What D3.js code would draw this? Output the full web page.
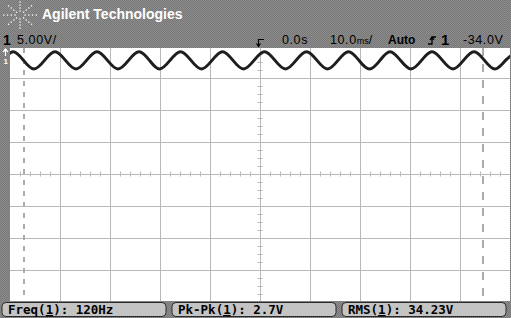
<!DOCTYPE html>
<html>
<head>
<meta charset="utf-8">
<script src="https://cdn.jsdelivr.net/npm/d3@7"></script>
<style>
  body { margin: 0; background: #888; }
  svg { display: block; }
</style>
</head>
<body>
<div id="chart"></div>
<script>
// sample points (ms, volts)
const traceTime = [
  -53.6, -51.5, -49.4, -47.3, -45.2, -43.1, -41.0, -38.9, -36.8, -34.7,
  -32.6, -30.5, -28.4, -26.3, -24.2, -22.1, -20.1, -18.0, -15.9, -13.8,
  -11.7, -9.6, -7.5, -5.4, -3.3, -1.2, 0.9, 3.0, 5.1, 7.2,
  9.3, 11.4, 13.5, 15.6, 17.7, 19.8, 21.9, 24.0, 26.0, 28.1,
  30.2, 32.3, 34.4, 36.5, 38.6, 40.7, 42.8, 44.9, 47.0, 49.1, 51.2,
];
const traceVolts = [
  -35.6, -34.25, -32.9, -34.25, -35.6, -34.25, -32.9, -34.25, -35.6, -34.25,
  -32.9, -34.25, -35.6, -34.25, -32.9, -34.25, -35.6, -34.25, -32.9, -34.25,
  -35.6, -34.25, -32.9, -34.25, -35.6, -34.25, -32.9, -34.25, -35.6, -34.25,
  -32.9, -34.25, -35.6, -34.25, -32.9, -34.25, -35.6, -34.25, -32.9, -34.25,
  -35.6, -34.25, -32.9, -34.25, -35.6, -34.25, -32.9, -34.25, -35.6, -34.25, -32.9,
];
const timeDomain = [-50, 50]; // 10 ms/div
const voltDomain = [-72, -32]; // 5 V/div, 8 div
const xGridTicks = [-40, -30, -20, -10, 0, 10, 20, 30, 40];
const yGridTicks = [-67, -62, -57, -52, -47, -42, -37];
const cursorTimes = [-47.2, 44.6];
const measureNames = ["Freq", "Pk-Pk", "RMS"];
const measureValues = ["120Hz", "2.7V", "34.23V"];

const width = 511, height = 318;
const plot = { left: 10, right: 510, top: 46, bottom: 302 };
const sans = "'Liberation Sans', Arial, sans-serif";
const mono = "'DejaVu Sans Mono', monospace";

const svg = d3.select("#chart").append("svg")
  .attr("width", width).attr("height", height);

const defs = svg.append("defs");
const pat = defs.append("pattern").attr("id", "dither")
  .attr("width", 2).attr("height", 2).attr("patternUnits", "userSpaceOnUse");
pat.append("rect").attr("width", 2).attr("height", 2).attr("fill", "#8e8e8e");
pat.append("rect").attr("width", 1).attr("height", 1).attr("fill", "#767676");
pat.append("rect").attr("x", 1).attr("y", 1).attr("width", 1).attr("height", 1).attr("fill", "#767676");

defs.append("clipPath").attr("id", "screen").append("rect")
  .attr("x", plot.left).attr("y", 48)
  .attr("width", plot.right - plot.left).attr("height", 301 - 48);

svg.append("rect").attr("width", width).attr("height", height).attr("fill", "url(#dither)");

// logo starburst
const logo = svg.append("g").attr("fill", "#fff");
d3.range(8).forEach((k) => {
  const a = (k * Math.PI) / 4;
  [4, 7, 10, 13].forEach((r) => {
    logo.append("rect")
      .attr("x", 20 + Math.cos(a) * r * 1.25 - 0.6)
      .attr("y", 15 + Math.sin(a) * r - 0.6)
      .attr("width", 1.3).attr("height", 1.3);
  });
});
svg.append("text").attr("x", 42).attr("y", 19)
  .style("font-family", sans)
  .attr("fill", "#fff").attr("font-weight", "bold").attr("font-size", 14)
  .text("Agilent Technologies");

// screen
svg.append("rect").attr("x", plot.left).attr("y", 48)
  .attr("width", plot.right - plot.left).attr("height", 301 - 48).attr("fill", "#fff");

const x = d3.scaleLinear().domain(timeDomain).range([plot.left, plot.right]);
const y = d3.scaleLinear().domain(voltDomain).range([plot.bottom, plot.top]);

const screen = svg.append("g").attr("clip-path", "url(#screen)");
const gridColor = "#b8b8b8";

screen.append("g")
  .attr("transform", `translate(0,${plot.top})`)
  .call(d3.axisBottom(x).tickValues(xGridTicks).tickSize(plot.bottom - plot.top).tickFormat(""))
  .call((g) => g.select(".domain").remove())
  .selectAll("line").attr("stroke", gridColor);

screen.append("g")
  .attr("transform", `translate(${plot.left},0)`)
  .call(d3.axisRight(y).tickValues(yGridTicks).tickSize(plot.right - plot.left).tickFormat(""))
  .call((g) => g.select(".domain").remove())
  .selectAll("line").attr("stroke", gridColor);

// minor ticks on center axes
screen.append("g")
  .attr("transform", `translate(0,${y(-52) - 2.5})`)
  .call(d3.axisBottom(x).tickValues(d3.range(-48, 50, 2)).tickSize(5).tickFormat(""))
  .call((g) => g.select(".domain").remove())
  .selectAll("line").attr("stroke", gridColor);
screen.append("g")
  .attr("transform", `translate(${x(0) - 2.5},0)`)
  .call(d3.axisRight(y).tickValues(d3.range(-70.75, -32, 1.25)).tickSize(5).tickFormat(""))
  .call((g) => g.select(".domain").remove())
  .selectAll("line").attr("stroke", gridColor);

// cursors
screen.selectAll(".cursor").data(cursorTimes).join("line")
  .attr("class", "cursor")
  .attr("x1", (d) => x(d)).attr("x2", (d) => x(d))
  .attr("y1", 48).attr("y2", 301)
  .attr("stroke", "#acacac").attr("stroke-width", 2)
  .attr("stroke-dasharray", (d, i) => (i === 0 ? "5,6" : "8,8"));

// trace
const trace = traceTime.map((t, i) => ({ t, v: traceVolts[i] }));
screen.append("path").datum(trace)
  .attr("fill", "none").attr("stroke", "#1e1e1e").attr("stroke-width", 3)
  .attr("d", d3.line().x((d) => x(d.t)).y((d) => y(d.v)).curve(d3.curveNatural));

// ground marker
svg.append("path").attr("d", "M5.5,49 L5.5,56 M3,52 L5.5,49 L8,52")
  .attr("stroke", "#fff").attr("stroke-width", 1.2).attr("fill", "none");
svg.append("text").attr("x", 3.5).attr("y", 64).attr("fill", "#fff")
  .style("font-family", sans)
  .attr("font-size", 8).attr("font-weight", "bold").text("1");

// status line
const status = (tx, ty, size, bold, str) =>
  svg.append("text").attr("x", tx).attr("y", ty)
    .style("font-family", sans).attr("font-size", size)
    .attr("font-weight", bold ? "bold" : "normal")
    .attr("letter-spacing", bold ? 0 : 0.6)
    .text(str);

status(3, 45, 14, true, "1");
status(17, 44, 12.5, false, "5.00V/");

svg.append("path").attr("d", "M264,39.5 L258.5,39.5 L258.5,46 M256.5,43.5 L258.5,46.5 L260.5,43.5")
  .attr("stroke", "#000").attr("stroke-width", 1.2).attr("fill", "none");
status(282, 44, 12.5, false, "0.0s");
const tb = status(330, 44, 12.5, false, "10.0");
tb.append("tspan").attr("font-size", 9).attr("letter-spacing", 0).text("ms");
tb.append("tspan").text("/");
status(388, 44, 12, true, "Auto");
svg.append("path").attr("d", "M428,44 L432,44 L432,37 L436,37 M430,40 L432,37 L434,40")
  .attr("stroke", "#000").attr("stroke-width", 1.3).attr("fill", "none");
status(441, 45, 15, true, "1");
status(463, 44, 12.5, false, "-34.0V");

// measurement softkeys
const keyX = [2, 172, 342];
const keys = svg.selectAll(".key").data(measureNames).join("g")
  .attr("class", "key")
  .attr("transform", (d, i) => `translate(${keyX[i]},302.5)`);
keys.append("rect").attr("width", 164).attr("height", 14).attr("rx", 4)
  .attr("fill", "#c4c4c4").attr("stroke", "#2a2a2a").attr("stroke-width", 1);
const label = keys.append("text").attr("x", 6).attr("y", 11.5)
  .style("font-family", mono).attr("font-weight", "bold")
  .attr("font-size", 12.5).attr("fill", "#000");
label.append("tspan").text((d) => d + "(");
label.append("tspan").attr("text-decoration", "underline").text("1");
label.append("tspan").text((d, i) => "): " + measureValues[i]);
</script>
</body>
</html>
